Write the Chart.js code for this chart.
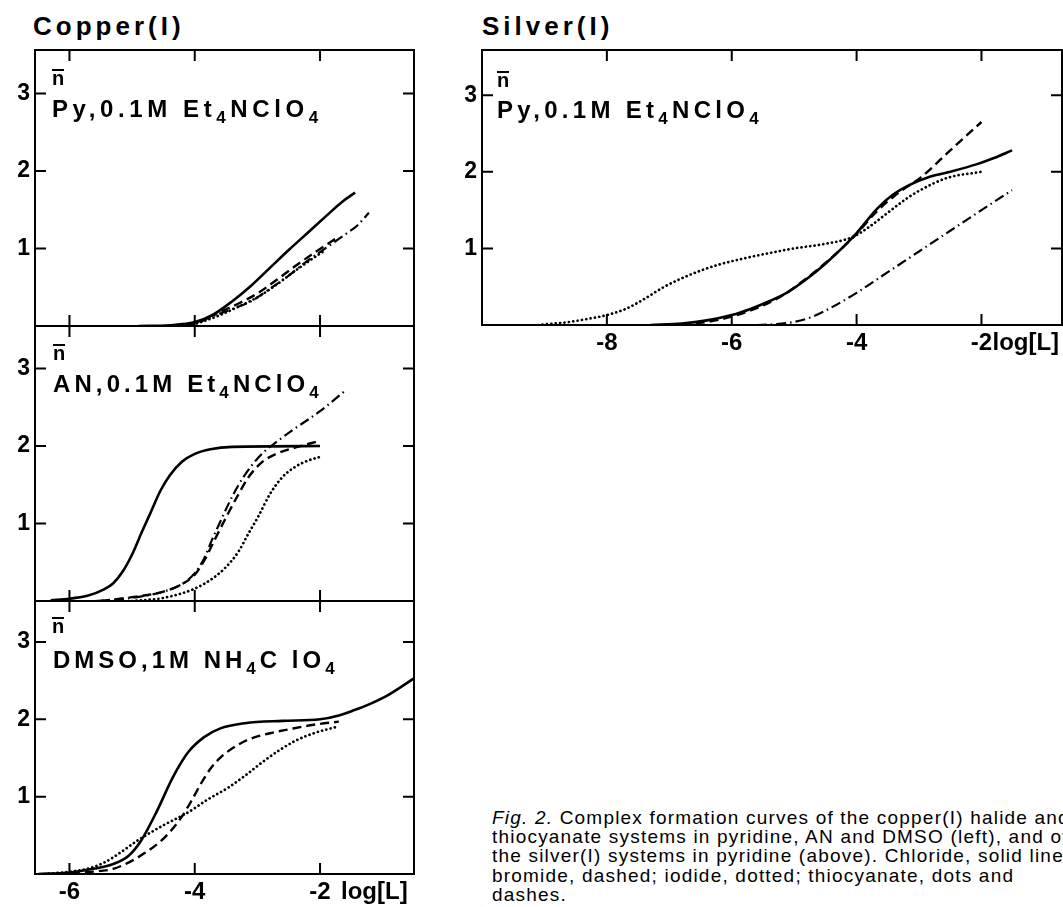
<!DOCTYPE html>
<html>
<head>
<meta charset="utf-8">
<script src="https://cdn.jsdelivr.net/npm/chart.js"></script>
<style>
  html, body { margin: 0; padding: 0; background: #fff; width: 1063px; height: 907px; overflow: hidden; }
  body { position: relative; font-family: "Liberation Sans", Arial, sans-serif; color: #000; }
  canvas { position: absolute; }
  .t { position: absolute; white-space: nowrap; }
  .title { font-weight: bold; font-size: 26px; line-height: 26px; letter-spacing: 4px; }
  .lab { font-weight: bold; font-size: 24px; line-height: 24px; letter-spacing: 4.6px; }
  .lab sub { font-size: 17px; vertical-align: -6px; line-height: 0; }
  .nbar { display: inline-block; border-top: 2px solid #000; font-weight: bold; font-size: 20px; line-height: 14px; }
  .cap { font-size: 19px; line-height: 19.2px; letter-spacing: 1.2px; }
</style>
</head>
<body>

<div class="t title" style="left:33px;top:13px">Copper(I)</div>
<div class="t title" style="left:482px;top:13px">Silver(I)</div>

<canvas id="cuPy" width="420" height="278" style="left:0;top:49px"></canvas>
<canvas id="cuAN" width="420" height="277" style="left:0;top:325px"></canvas>
<canvas id="cuDMSO" width="420" height="310" style="left:0;top:600px"></canvas>
<canvas id="agPy" width="616" height="312" style="left:447px;top:49px"></canvas>

<div class="t" style="left:52px;top:69px"><span class="nbar">n</span></div>
<div class="t lab" style="left:52px;top:97px">Py,0.1M Et<sub>4</sub>NClO<sub>4</sub></div>
<div class="t" style="left:53px;top:344px"><span class="nbar">n</span></div>
<div class="t lab" style="left:53px;top:372px;letter-spacing:4.1px">AN,0.1M Et<sub>4</sub>NClO<sub>4</sub></div>
<div class="t" style="left:52px;top:617px"><span class="nbar">n</span></div>
<div class="t lab" style="left:53px;top:648px;letter-spacing:4px">DMSO,1M NH<sub>4</sub>C lO<sub>4</sub></div>
<div class="t" style="left:497px;top:71px"><span class="nbar">n</span></div>
<div class="t lab" style="left:497px;top:98px;letter-spacing:4.3px">Py,0.1M Et<sub>4</sub>NClO<sub>4</sub></div>

<div class="t cap" style="left:492px;top:808px"><i>Fig. 2.</i> Complex formation curves of the copper(I) halide and<br>thiocyanate systems in pyridine, AN and DMSO (left), and of<br>the silver(I) systems in pyridine (above). Chloride, solid line;<br>bromide, dashed; iodide, dotted; thiocyanate, dots and<br>dashes.</div>

<script>
// tick values
const copperXTicks = [-6, -4, -2];
const silverXTicks = [-8, -6, -4, -2];
const nTicks = [1, 2, 3];

// copper(I), pyridine, 0.1M Et4NClO4   [log[L], n]
const cuPyChloride = [[-4.9, 0], [-4.4, 0.01], [-4.0, 0.05], [-3.7, 0.15], [-3.4, 0.32], [-3.1, 0.52], [-2.8, 0.75], [-2.5, 0.98], [-2.2, 1.2], [-1.9, 1.42], [-1.65, 1.6], [-1.44, 1.72]];
const cuPyBromide = [[-4.2, 0], [-3.9, 0.07], [-3.6, 0.18], [-3.3, 0.29], [-3.0, 0.42], [-2.7, 0.59], [-2.4, 0.77], [-2.1, 0.94], [-1.8, 1.1], [-1.7, 1.15]];
const cuPyIodide = [[-4.1, 0], [-3.9, 0.05], [-3.6, 0.14], [-3.3, 0.25], [-3.0, 0.37], [-2.7, 0.53], [-2.4, 0.71], [-2.1, 0.88], [-1.95, 0.96]];
const cuPyThiocyanate = [[-4.2, 0], [-4.0, 0.03], [-3.7, 0.13], [-3.4, 0.22], [-3.1, 0.32], [-2.8, 0.48], [-2.5, 0.65], [-2.2, 0.84], [-1.9, 1.01], [-1.6, 1.18], [-1.4, 1.3], [-1.22, 1.46]];

// copper(I), acetonitrile, 0.1M Et4NClO4
const cuANChloride = [[-6.3, 0.01], [-6.0, 0.03], [-5.7, 0.07], [-5.45, 0.15], [-5.3, 0.23], [-5.15, 0.38], [-5.0, 0.6], [-4.85, 0.88], [-4.7, 1.15], [-4.55, 1.42], [-4.4, 1.62], [-4.2, 1.8], [-4.0, 1.9], [-3.75, 1.96], [-3.4, 1.99], [-2.0, 2.0]];
const cuANBromide = [[-5.5, 0], [-5.0, 0.05], [-4.5, 0.12], [-4.2, 0.22], [-4.0, 0.34], [-3.85, 0.52], [-3.7, 0.76], [-3.5, 1.08], [-3.3, 1.38], [-3.14, 1.6], [-2.93, 1.79], [-2.7, 1.9], [-2.4, 1.98], [-2.13, 2.04], [-2.0, 2.07]];
const cuANIodide = [[-5.0, 0], [-4.5, 0.04], [-4.0, 0.16], [-3.7, 0.3], [-3.5, 0.44], [-3.3, 0.64], [-3.15, 0.86], [-2.98, 1.1], [-2.8, 1.38], [-2.6, 1.6], [-2.4, 1.73], [-2.2, 1.81], [-2.0, 1.86]];
const cuANThiocyanate = [[-5.6, 0], [-5.2, 0.02], [-4.85, 0.06], [-4.5, 0.12], [-4.2, 0.22], [-4.0, 0.36], [-3.85, 0.55], [-3.73, 0.78], [-3.6, 1.01], [-3.45, 1.27], [-3.3, 1.5], [-3.1, 1.74], [-2.9, 1.92], [-2.7, 2.05], [-2.45, 2.2], [-2.0, 2.45], [-1.62, 2.7]];

// copper(I), DMSO, 1M NH4ClO4
const cuDMSOChloride = [[-6.5, 0], [-6.0, 0.02], [-5.6, 0.07], [-5.3, 0.13], [-5.05, 0.24], [-4.85, 0.44], [-4.6, 0.82], [-4.35, 1.25], [-4.1, 1.58], [-3.85, 1.77], [-3.6, 1.88], [-3.2, 1.95], [-2.6, 1.98], [-2.0, 2.0], [-1.7, 2.05], [-1.45, 2.12], [-1.2, 2.2], [-0.9, 2.32], [-0.5, 2.53]];
const cuDMSOBromide = [[-6.2, 0], [-5.8, 0.02], [-5.5, 0.04], [-5.33, 0.06], [-5.05, 0.15], [-4.8, 0.27], [-4.55, 0.42], [-4.37, 0.57], [-4.2, 0.75], [-4.05, 0.95], [-3.9, 1.17], [-3.75, 1.36], [-3.57, 1.52], [-3.35, 1.65], [-3.14, 1.74], [-2.8, 1.82], [-2.5, 1.87], [-2.1, 1.93], [-1.7, 1.97]];
const cuDMSOIodide = [[-6.4, 0], [-6.0, 0.03], [-5.7, 0.07], [-5.44, 0.15], [-5.2, 0.27], [-4.9, 0.44], [-4.5, 0.63], [-4.1, 0.8], [-3.8, 0.96], [-3.46, 1.12], [-3.2, 1.27], [-2.93, 1.44], [-2.65, 1.6], [-2.4, 1.72], [-2.1, 1.82], [-1.7, 1.91]];

// silver(I), pyridine, 0.1M Et4NClO4
const agPyChloride = [[-7.3, 0], [-6.8, 0.02], [-6.4, 0.06], [-6.0, 0.13], [-5.7, 0.21], [-5.4, 0.31], [-5.1, 0.43], [-4.8, 0.6], [-4.5, 0.8], [-4.2, 1.03], [-4.0, 1.2], [-3.67, 1.52], [-3.42, 1.7], [-3.15, 1.83], [-2.85, 1.93], [-2.55, 1.99], [-2.07, 2.1], [-1.8, 2.18], [-1.51, 2.28]];
const agPyBromide = [[-6.8, 0], [-6.4, 0.04], [-6.0, 0.11], [-5.6, 0.22], [-5.2, 0.38], [-4.8, 0.61], [-4.5, 0.81], [-4.2, 1.03], [-4.0, 1.19], [-3.67, 1.49], [-3.4, 1.68], [-3.2, 1.8], [-2.98, 1.92], [-2.5, 2.28], [-2.0, 2.65]];
const agPyIodide = [[-9.1, 0], [-8.6, 0.04], [-8.3, 0.08], [-8.0, 0.13], [-7.7, 0.21], [-7.4, 0.34], [-7.1, 0.49], [-6.8, 0.61], [-6.5, 0.71], [-6.2, 0.79], [-5.8, 0.87], [-5.39, 0.94], [-5.0, 1.0], [-4.5, 1.06], [-4.06, 1.15], [-3.8, 1.28], [-3.51, 1.46], [-3.2, 1.65], [-2.98, 1.76], [-2.55, 1.92], [-2.0, 2.0]];
const agPyThiocyanate = [[-5.6, 0], [-5.3, 0.01], [-5.0, 0.04], [-4.7, 0.11], [-4.4, 0.23], [-4.0, 0.42], [-3.5, 0.69], [-3.0, 0.96], [-2.5, 1.23], [-2.0, 1.5], [-1.51, 1.76]];

Chart.defaults.font.family = '"Liberation Sans", Arial, sans-serif';
Chart.defaults.color = '#000';

const lineStyles = {
  chloride: { borderDash: [], borderWidth: 2.6 },
  bromide: { borderDash: [9, 5], borderWidth: 2.4 },
  iodide: { borderDash: [0.1, 4.3], borderWidth: 2.7, borderCapStyle: 'round' },
  thiocyanate: { borderDash: [10, 4, 1.5, 4], borderWidth: 2.2 }
};

// box round the plot area and the inward tick marks
const frame = {
  id: 'frame',
  afterDraw(chart, args, opts) {
    const { ctx, chartArea: a, scales: { x, y } } = chart;
    ctx.save();
    ctx.strokeStyle = '#000';
    ctx.lineWidth = 2;
    ctx.strokeRect(a.left, a.top, a.right - a.left, a.bottom - a.top);
    ctx.beginPath();
    opts.xTicks.forEach(v => {
      const px = x.getPixelForValue(v);
      ctx.moveTo(px, a.top); ctx.lineTo(px, a.top + 11);
      ctx.moveTo(px, a.bottom); ctx.lineTo(px, a.bottom - 11);
    });
    nTicks.forEach(v => {
      const py = y.getPixelForValue(v);
      ctx.moveTo(a.left, py); ctx.lineTo(a.left + 11, py);
      ctx.moveTo(a.right, py); ctx.lineTo(a.right - 11, py);
    });
    ctx.stroke();
    if (opts.axisName) {
      ctx.font = 'bold 24px "Liberation Sans", Arial, sans-serif';
      ctx.fillStyle = '#000';
      ctx.textAlign = 'left';
      ctx.textBaseline = 'middle';
      ctx.fillText('log[L]', x.getPixelForValue(-2) + opts.nameDx, a.bottom + 4 + 14.4);
    }
    ctx.restore();
  }
};

function noPad(s) {
  s.paddingTop = 0; s.paddingBottom = 0; s.paddingLeft = 0; s.paddingRight = 0;
}

function makePanel(id, series, o) {
  new Chart(document.getElementById(id), {
    type: 'scatter',
    data: {
      datasets: series.map(([kind, pts]) => Object.assign({
        label: kind,
        data: pts.map(([x, y]) => ({ x, y })),
        showLine: true,
        pointRadius: 0,
        borderColor: '#000',
        fill: false,
        cubicInterpolationMode: 'monotone'
      }, lineStyles[kind]))
    },
    options: {
      responsive: false,
      maintainAspectRatio: false,
      animation: false,
      devicePixelRatio: 1,
      layout: { autoPadding: false, padding: { top: 1, right: o.padRight, bottom: o.showX ? 0 : 1, left: 0 } },
      plugins: {
        legend: { display: false },
        tooltip: { enabled: false },
        frame: { xTicks: o.xTicks, axisName: o.showX, nameDx: o.nameDx }
      },
      scales: {
        x: {
          type: 'linear', min: o.xMin, max: o.xMax, display: o.showX,
          afterBuildTicks: s => { s.ticks = o.xTicks.map(v => ({ value: v })); },
          afterFit: s => { s.height = o.showX ? 36 : 0; noPad(s); },
          grid: { display: false, drawTicks: false },
          border: { display: false },
          ticks: { padding: 4, font: { size: 24, weight: 'bold' }, callback: v => String(v), maxRotation: 0 }
        },
        y: {
          type: 'linear', min: 0, max: o.yMax,
          afterBuildTicks: s => { s.ticks = nTicks.map(v => ({ value: v })); },
          afterFit: s => { s.width = 35; noPad(s); },
          grid: { display: false, drawTicks: false },
          border: { display: false },
          ticks: { padding: 5, font: { size: 23, weight: 'bold' }, callback: v => String(v) }
        }
      }
    },
    plugins: [frame]
  });
}

const copperBase = { xMin: -6.55, xMax: -0.5, xTicks: copperXTicks, padRight: 6, nameDx: 21 };

makePanel('cuPy', [
  ['iodide', cuPyIodide], ['bromide', cuPyBromide], ['thiocyanate', cuPyThiocyanate], ['chloride', cuPyChloride]
], Object.assign({}, copperBase, { yMax: 3.56, showX: false }));

makePanel('cuAN', [
  ['iodide', cuANIodide], ['bromide', cuANBromide], ['thiocyanate', cuANThiocyanate], ['chloride', cuANChloride]
], Object.assign({}, copperBase, { yMax: 3.55, showX: false }));

makePanel('cuDMSO', [
  ['iodide', cuDMSOIodide], ['bromide', cuDMSOBromide], ['chloride', cuDMSOChloride]
], Object.assign({}, copperBase, { yMax: 3.53, showX: true }));

makePanel('agPy', [
  ['iodide', agPyIodide], ['bromide', agPyBromide], ['thiocyanate', agPyThiocyanate], ['chloride', agPyChloride]
], { xMin: -10, xMax: -0.71, xTicks: silverXTicks, padRight: 1, nameDx: 11, yMax: 3.59, showX: true });
</script>
</body>
</html>
